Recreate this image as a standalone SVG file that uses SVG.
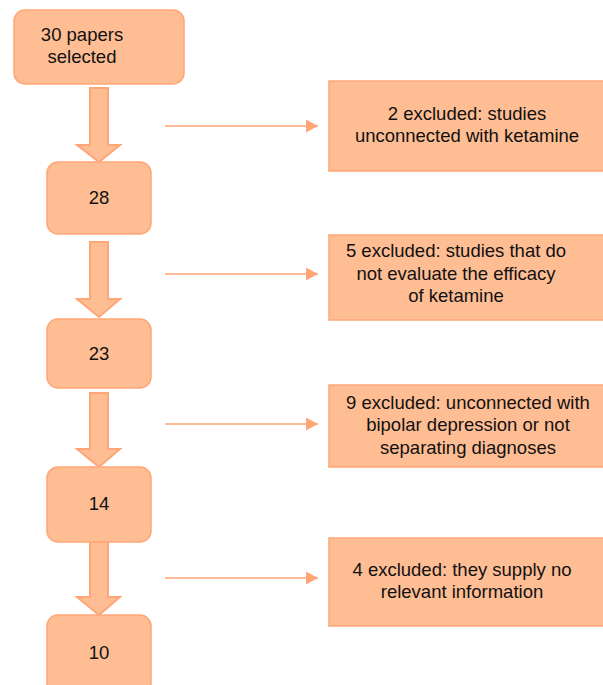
<svg xmlns="http://www.w3.org/2000/svg" width="603" height="685" viewBox="0 0 603 685">
<style>
.box{fill:#FFBD94;stroke:#FFA677;stroke-width:1.5}
.blk{fill:#FFBD94;stroke:#FFA677;stroke-width:2;stroke-linejoin:miter}
.ln{stroke:#FFA677;stroke-width:1.5;fill:none}
text{font-family:"Liberation Sans",Arial,sans-serif;font-size:18.5px;fill:#111111;text-anchor:middle}
</style>
<defs>
<marker id="ah" markerUnits="userSpaceOnUse" markerWidth="12" markerHeight="13" refX="12" refY="6.5" orient="auto">
<path d="M0,0 L12,6.5 L0,13 Z" fill="#FFA677"/>
</marker>
</defs>
<rect width="603" height="685" fill="#FFFFFF"/>
<g id="connectors">
<path class="blk" d="M90,88 H108 V145 H120 L99,162 L77,145 H90 Z"/>
<path class="blk" d="M90,242 H108 V299 H120 L99,317 L77,299 H90 Z"/>
<path class="blk" d="M90,393 H108 V449 H120 L99,467 L77,449 H90 Z"/>
<path class="blk" d="M90,542 H108 V597 H120 L99,615 L77,597 H90 Z"/>
<line class="ln" x1="165" y1="126" x2="318" y2="126" marker-end="url(#ah)"/>
<line class="ln" x1="165" y1="274" x2="318" y2="274" marker-end="url(#ah)"/>
<line class="ln" x1="165" y1="424" x2="318" y2="424" marker-end="url(#ah)"/>
<line class="ln" x1="165" y1="578" x2="318" y2="578" marker-end="url(#ah)"/>
</g>
<g id="n30">
<rect class="box" x="14" y="10" width="170" height="74" rx="11"/>
<text x="82" y="41">30 papers</text>
<text x="82" y="63">selected</text>
</g>
<g id="n28">
<rect class="box" x="47" y="162" width="104" height="72" rx="11"/>
<text x="99" y="204">28</text>
</g>
<g id="n23">
<rect class="box" x="47" y="319" width="104" height="69" rx="11"/>
<text x="99" y="360">23</text>
</g>
<g id="n14">
<rect class="box" x="47" y="467" width="104" height="75" rx="11"/>
<text x="99" y="510">14</text>
</g>
<g id="n10">
<rect class="box" x="47" y="615" width="104" height="80" rx="11"/>
<text x="99" y="659">10</text>
</g>
<g id="ex2">
<rect class="box" x="329" y="81" width="280" height="90"/>
<text x="467" y="120">2 excluded: studies</text>
<text x="467" y="142">unconnected with ketamine</text>
</g>
<g id="ex5">
<rect class="box" x="329" y="235" width="280" height="85"/>
<text x="456" y="257">5 excluded: studies that do</text>
<text x="456" y="280">not evaluate the efficacy</text>
<text x="456" y="302">of ketamine</text>
</g>
<g id="ex9">
<rect class="box" x="329" y="385" width="280" height="82"/>
<text x="468" y="409">9 excluded: unconnected with</text>
<text x="468" y="431">bipolar depression or not</text>
<text x="468" y="454">separating diagnoses</text>
</g>
<g id="ex4">
<rect class="box" x="329" y="538" width="280" height="88"/>
<text x="462" y="576">4 excluded: they supply no</text>
<text x="462" y="598">relevant information</text>
</g>
</svg>
